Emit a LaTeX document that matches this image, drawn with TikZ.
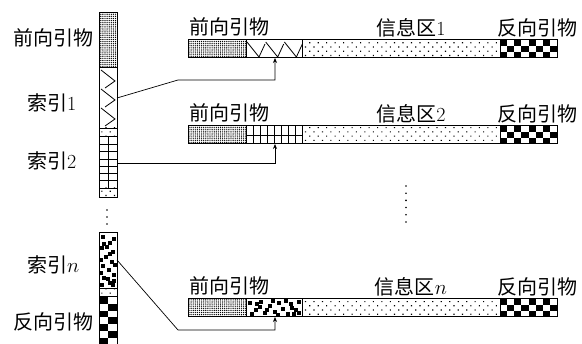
\documentclass[tikz,border=0pt]{standalone}
\usepackage{fontspec}
\newfontfamily\cjk{Noto Sans CJK SC}
\usetikzlibrary{arrows.meta,patterns,patterns.meta}

\begin{document}
\begin{tikzpicture}[x=1pt,y=-1pt,
    lbl/.style={font=\fontsize{20}{24}\selectfont, inner sep=0pt},
    cell/.style={draw, line width=1pt},
    link/.style={line width=0.7pt},
    primer/.style={pattern={Dots[distance=2.1pt,radius=0.7pt]}},
    info/.style={pattern={Dots[distance=6pt,angle=45,radius=0.8pt]}}]
    \useasboundingbox (0,0) rectangle (582,344);

    % sloupec vlevo
    \fill[primer] (99,13) rectangle (117,67);
    \foreach \k in {0,1,2}
        \draw[line width=0.8pt] (101,70+19*\k) -- (115,81+19*\k) -- (105,88+19*\k);
    \fill[info] (99,128) rectangle (117,137);
    \foreach \k in {1,...,6}
        \draw[line width=0.7pt] (99,137+7.3*\k) -- (117,137+7.3*\k);
    \draw[line width=0.7pt] (108,137) -- (108,188);
    \fill[info] (99,188) rectangle (117,198);
    \draw[cell] (99,13) rectangle (117,198);
    \draw (99,67) -- (117,67) (99,128) -- (117,128) (99,188) -- (117,188);
    \draw[cell] (99,137) -- (117,137);
    \foreach \y in {210,217,224}
        \fill (107,\y) circle (0.9pt);
    \foreach \a/\b in {2/2,8/9,13/1,17/12,22/5,27/11,31/2,35/8,40/13,43/3,48/9,50/1,4/13,12/6,25/0,38/0,46/13,50/12,19/9,30/14,9/3,44/7}
        \fill (99+\b,233+\a) rectangle ++(3.8,3.8);
    \fill[info] (99,288) rectangle (117,297);
    \foreach \i in {0,1}
        \foreach \j in {0,...,7}{
            \pgfmathtruncatemacro\k{mod(\i+\j,2)}
            \ifnum\k=0 \fill (99+9*\i,297+6.8*\j) rectangle ++(9,6.8); \fi
        }
    \draw[cell] (99,233) rectangle (117,350);
    \draw (99,288) -- (117,288);
    \draw[cell] (99,297) -- (117,297);

    \node[lbl] (lfw) at (53,38) {\cjk 前向引物};
    \node[lbl,anchor=west] (li1) at (27,103) {{\cjk 索引}1};
    \node[lbl,anchor=west] (li2) at (27,161) {{\cjk 索引}2};
    \node[lbl,anchor=west] (lin) at (27,265) {{\cjk 索引}$n$};
    \node[lbl] (lrv) at (53,322) {\cjk 反向引物};

    % záznamy vpravo
    \foreach \t/\n [count=\r] in {40/1,126/2,299/$n$}{
        \fill[primer] (188,\t) rectangle (246,\t+18);
        \fill[info] (302,\t) rectangle (500,\t+18);
        \foreach \i in {0,...,7}
            \foreach \j in {0,1,2}{
                \pgfmathtruncatemacro\k{mod(\i+\j,2)}
                \ifnum\k=0 \fill (500+7.125*\i,\t+6*\j) rectangle ++(7.125,6); \fi
            }
        \draw[cell] (188,\t) rectangle (557,\t+18);
        \draw[cell] (246,\t) -- ++(0,18) (302,\t) -- ++(0,18) (500,\t) -- ++(0,18);
        \node[lbl] (fw\r) at (229,\t-13) {\cjk 前向引物};
        \node[lbl] (info\r) at (411,\t-12) {{\cjk 信息区}\n};
        \node[lbl] (rv\r) at (537,\t-12) {\cjk 反向引物};
    }
    \foreach \k in {0,1,2}
        \draw[line width=0.8pt] (247+18.7*\k,42) -- (259+18.7*\k,57) -- (265+18.7*\k,44);
    \foreach \i in {1,...,7}
        \draw[line width=0.7pt] (246+7*\i,126) -- ++(0,18);
    \draw[line width=0.7pt] (246,135) -- (302,135);
    \foreach \a/\b in {2/2,8/9,13/1,17/12,22/5,27/11,31/2,35/8,40/13,43/3,48/9,51/1,4/13,12/6,25/0,38/0,46/13,51/12,19/9,30/14,9/3,44/7}
        \fill (246+\a,299+\b) rectangle ++(3.8,3.8);

    \foreach \y in {0,...,5}
        \fill (406,186+7.2*\y) circle (0.9pt);

    % spojnice
    \coordinate (s1) at (117,98);
    \coordinate (m1) at (178,80);
    \coordinate (e1) at (275,58);
    \coordinate (s2) at (117,163);
    \coordinate (e2) at (275,144);
    \coordinate (sn) at (117,260);
    \coordinate (mn) at (178,330);
    \coordinate (en) at (275,317);
    \draw[link,-{Stealth[length=5pt,width=4pt]}] (s1) -- (m1) -| (e1);
    \draw[link,-{Stealth[length=5pt,width=4pt]}] (s2) -| (e2);
    \draw[link,-{Stealth[length=5pt,width=4pt]}] (sn) -- (mn) -| (en);
\end{tikzpicture}
\end{document}
